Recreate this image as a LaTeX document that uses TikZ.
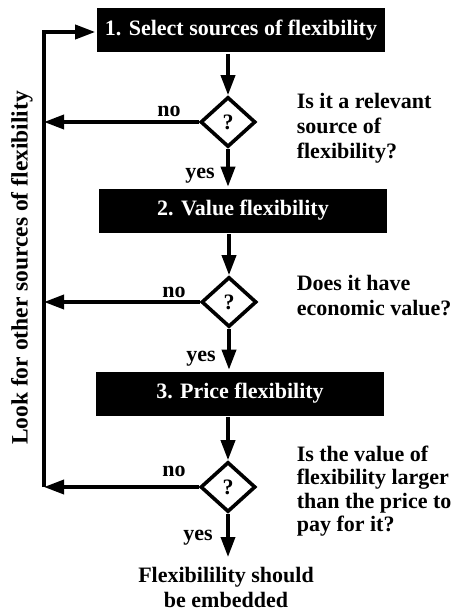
\documentclass[tikz,border=0pt]{standalone}
\usepackage{fontspec}
\setmainfont{Liberation Serif}
\usetikzlibrary{arrows.meta,shapes.geometric}
\begin{document}
\begin{tikzpicture}[x=1pt,y=-1pt,line width=3.6pt,
  every node/.style={font=\fontsize{22}{25}\selectfont\bfseries},
  stepbox/.style={fill=black,text=white,minimum width=288pt,minimum height=44pt,inner sep=0pt},
  decision/.style={diamond,draw,line width=3.6pt,minimum width=55pt,minimum height=50pt,inner sep=0pt},
  arr/.style={-{Triangle[length=20pt,width=14pt]}},
  lbl/.style={inner sep=0pt,anchor=base},
  question/.style={inner sep=0pt,anchor=base west,align=left}]
\useasboundingbox (0,0) rectangle (454,613);
\node[stepbox] (b1) at (241,30) {1. Select sources of flexibility};
\node[decision] (d1) at (228,122) {?};
\node[stepbox] (b2) at (243,210.5) {2. Value flexibility};
\node[decision] (d2) at (229,302) {?};
\node[stepbox] (b3) at (240,393.5) {3. Price flexibility};
\node[decision] (d3) at (228,487) {?};
% text anchored at the baseline of its last line
\node[align=center,inner sep=0pt,anchor=base] (fin) at (226,607) {Flexibilility should\\be embedded};
\coordinate (finend) at (228,557);
\coordinate (ltop) at (44,32);
\coordinate (lbot) at (44,487);
% main flow
\draw[arr] (b1.south -| d1) -- (d1.north);
\draw[arr] (d1.south) -- (d1.south |- b2.north);
\draw[arr] (b2.south -| d2) -- (d2.north);
\draw[arr] (d2.south) -- (d2.south |- b3.north);
\draw[arr] (b3.south -| d3) -- (d3.north);
\draw[arr] (d3.south) -- (d3.south |- finend);
% no branches
\draw[arr] (d1.west) -- (d1.west -| ltop);
\draw[arr] (d2.west) -- (d2.west -| ltop);
\draw[arr] (d3.west) -- (lbot);
\draw[arr,line join=miter] (lbot) -- (ltop) -- (b1.west |- ltop);
% labels
\node[lbl] (n1) at (169,116) {no};
\node[lbl] (y1) at (200,178) {yes};
\node[lbl] (n2) at (174,297) {no};
\node[lbl] (y2) at (201,361) {yes};
\node[lbl] (n3) at (174,476) {no};
\node[lbl] (y3) at (198,540) {yes};
\node[question] (q1) at (295,158) {Is it a relevant\\source of\\flexibility?};
\node[question] (q2) at (295,315) {Does it have\\economic value?};
\node[question,font=\fontsize{22}{23.5}\selectfont\bfseries] (q3) at (295,531.5) {Is the value of\\flexibility larger\\than the price to\\pay for it?};
\node[rotate=90,inner sep=0pt,font=\fontsize{23.5}{25}\selectfont\bfseries] (side) at (22,268) {Look for other sources of flexibility};
\end{tikzpicture}
\end{document}
